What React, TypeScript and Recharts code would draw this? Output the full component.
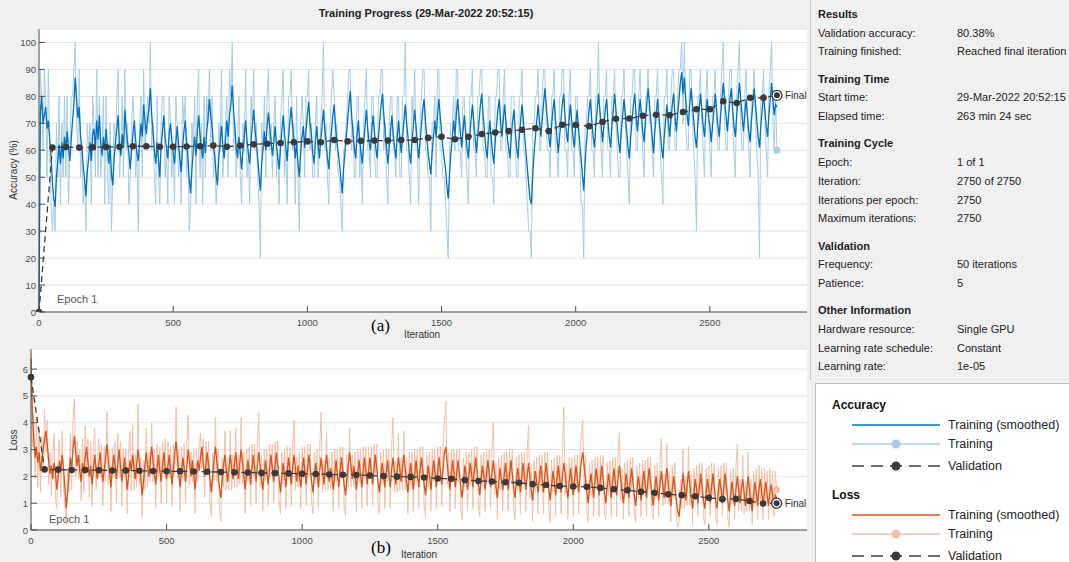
import React from "react";
import { LineChart, Line, XAxis, YAxis, CartesianGrid } from "recharts";

// one training sample every 5 iterations, validation every 50
const ITER_STEP = 5;
const VAL_STEP = 50;

const xTicks = [0, 500, 1000, 1500, 2000, 2500];
const accTicks = [0, 10, 20, 30, 40, 50, 60, 70, 80, 90, 100];
const lossTicks = [0, 1, 2, 3, 4, 5, 6];

const accTrainRaw = [
  0, 90, 80, 60, 90, 80, 50, 90, 60, 40, 30, 40, 30, 70, 50, 80, 40, 70, 50, 80, 50, 80, 40, 60, 80,
  80, 90, 100, 70, 60, 90, 50, 60, 40, 50, 30, 70, 60, 70, 40, 80, 70, 50, 90, 50, 80, 50, 60, 80, 40,
  80, 50, 40, 70, 30, 50, 70, 60, 80, 90, 50, 60, 80, 50, 90, 60, 70, 40, 50, 70, 80, 70, 50, 60, 30,
  70, 80, 50, 90, 60, 70, 80, 70, 100, 60, 70, 50, 40, 80, 50, 40, 70, 80, 80, 50, 60, 40, 80, 70, 50,
  60, 40, 80, 70, 50, 60, 40, 80, 70, 80, 50, 60, 30, 40, 70, 60, 80, 40, 80, 90, 50, 70, 40, 80, 50,
  80, 70, 90, 60, 80, 50, 60, 40, 50, 70, 60, 90, 50, 60, 70, 80, 50, 90, 80, 100, 60, 70, 50, 60, 80,
  50, 40, 70, 60, 90, 50, 60, 40, 80, 70, 90, 60, 70, 50, 40, 20, 70, 60, 80, 50, 80, 90, 60, 70, 50,
  70, 80, 50, 60, 40, 70, 80, 90, 50, 60, 40, 80, 80, 90, 60, 70, 40, 80, 50, 30, 70, 80, 70, 50, 80,
  80, 90, 60, 70, 50, 50, 70, 80, 50, 60, 70, 80, 100, 60, 70, 50, 40, 70, 80, 90, 80, 60, 70, 50, 50,
  40, 30, 60, 60, 70, 80, 90, 90, 60, 70, 50, 50, 80, 80, 50, 60, 40, 70, 80, 90, 60, 60, 50, 80, 80,
  60, 50, 50, 80, 80, 90, 90, 60, 70, 50, 40, 70, 80, 80, 60, 60, 50, 80, 80, 50, 50, 80, 80, 100, 60,
  60, 50, 40, 80, 70, 90, 60, 60, 40, 70, 80, 90, 90, 60, 60, 50, 50, 30, 70, 70, 80, 50, 90, 90, 60,
  60, 50, 50, 40, 30, 20, 60, 70, 70, 80, 60, 90, 90, 60, 60, 50, 80, 80, 60, 50, 40, 80, 80, 90, 60,
  60, 50, 80, 80, 90, 90, 60, 60, 50, 50, 80, 80, 50, 50, 40, 80, 80, 90, 90, 60, 60, 80, 90, 60, 60,
  50, 50, 80, 80, 80, 60, 50, 50, 80, 80, 90, 60, 60, 50, 40, 30, 30, 20, 70, 70, 80, 80, 90, 60, 60,
  80, 90, 90, 70, 60, 60, 50, 80, 80, 90, 60, 60, 50, 80, 80, 90, 90, 60, 60, 50, 80, 90, 60, 60, 50,
  80, 80, 60, 60, 40, 40, 20, 70, 70, 80, 80, 90, 60, 60, 50, 80, 80, 100, 70, 60, 50, 80, 80, 90, 60,
  60, 50, 80, 80, 90, 70, 60, 50, 50, 80, 80, 90, 70, 60, 50, 40, 80, 80, 90, 90, 60, 60, 80, 90, 70,
  60, 50, 80, 80, 90, 70, 70, 60, 50, 80, 80, 90, 70, 60, 50, 40, 80, 80, 90, 60, 60, 80, 90, 90, 60,
  60, 80, 90, 90, 100, 70, 100, 70, 60, 60, 90, 90, 70, 60, 50, 30, 80, 80, 90, 70, 60, 50, 80, 90, 70,
  60, 50, 80, 80, 90, 70, 60, 60, 80, 90, 100, 70, 60, 60, 80, 90, 90, 70, 60, 50, 80, 90, 100, 70, 60,
  60, 80, 90, 70, 60, 50, 80, 80, 90, 70, 60, 50, 20, 80, 80, 90, 70, 60, 50, 80, 90, 100, 70, 60, 80,
  60,
];

const accTrainSmooth = [
  0, 74, 80, 70, 73, 76, 68, 71, 64, 58, 48, 42, 39, 50, 56, 62, 55, 63, 57, 65, 60, 67, 61, 56, 64,
  71, 77, 87, 79, 72, 76, 65, 61, 54, 49, 43, 52, 57, 63, 56, 66, 68, 60, 71, 64, 73, 63, 58, 65, 60,
  68, 61, 55, 62, 51, 47, 57, 63, 68, 73, 62, 58, 66, 61, 75, 68, 63, 59, 53, 60, 66, 71, 64, 59, 56,
  63, 70, 65, 77, 71, 66, 72, 76, 83, 73, 67, 60, 55, 63, 57, 50, 61, 67, 73, 65, 61, 57, 66, 70, 64,
  59, 55, 63, 69, 62, 57, 52, 61, 67, 71, 63, 57, 49, 44, 53, 60, 65, 58, 67, 73, 66, 61, 57, 65, 59,
  67, 72, 79, 73, 69, 61, 58, 51, 47, 57, 63, 69, 62, 57, 64, 71, 65, 73, 77, 84, 75, 68, 61, 57, 65,
  59, 53, 60, 65, 71, 64, 59, 55, 63, 69, 75, 68, 63, 57, 51, 45, 55, 61, 67, 60, 69, 74, 68, 63, 58,
  63, 69, 62, 57, 53, 61, 67, 73, 66, 61, 56, 65, 71, 76, 69, 63, 57, 63, 55, 50, 59, 65, 69, 61, 67,
  73, 78, 70, 66, 59, 55, 63, 69, 62, 57, 64, 69, 75, 68, 63, 57, 53, 61, 67, 73, 77, 69, 63, 59, 55,
  49, 44, 53, 59, 65, 71, 77, 82, 73, 67, 61, 57, 65, 71, 64, 59, 55, 63, 69, 75, 68, 63, 60, 67, 73,
  67, 61, 57, 65, 71, 77, 81, 73, 67, 61, 55, 61, 67, 73, 66, 61, 57, 65, 71, 64, 59, 65, 71, 77, 70,
  65, 59, 55, 63, 69, 75, 69, 63, 57, 63, 69, 75, 79, 71, 65, 59, 55, 51, 59, 65, 71, 65, 73, 79, 73,
  67, 61, 57, 53, 47, 42, 51, 59, 65, 71, 65, 73, 79, 73, 67, 61, 67, 73, 67, 61, 57, 65, 71, 77, 71,
  65, 59, 65, 71, 77, 81, 73, 67, 61, 57, 65, 71, 65, 59, 55, 63, 69, 75, 79, 71, 65, 71, 77, 71, 65,
  61, 57, 65, 71, 75, 67, 61, 57, 65, 71, 77, 71, 65, 59, 53, 47, 42, 40, 51, 59, 65, 71, 77, 71, 65,
  71, 77, 83, 77, 71, 65, 61, 69, 75, 79, 71, 65, 59, 65, 71, 77, 81, 73, 67, 63, 71, 77, 71, 65, 61,
  69, 75, 69, 63, 57, 51, 45, 55, 63, 69, 75, 79, 71, 65, 61, 69, 75, 81, 75, 69, 63, 69, 75, 79, 71,
  65, 61, 69, 75, 81, 75, 69, 63, 59, 67, 73, 79, 73, 67, 61, 57, 65, 71, 77, 81, 73, 67, 73, 79, 73,
  67, 63, 71, 77, 83, 77, 71, 65, 59, 67, 73, 79, 73, 67, 61, 57, 65, 71, 77, 71, 65, 71, 77, 81, 73,
  67, 73, 79, 85, 89, 81, 87, 79, 73, 69, 77, 83, 77, 71, 65, 61, 69, 75, 81, 75, 69, 65, 73, 79, 73,
  69, 63, 69, 75, 81, 75, 69, 65, 73, 79, 85, 79, 73, 67, 73, 79, 83, 75, 69, 65, 73, 79, 85, 79, 73,
  67, 73, 79, 73, 67, 63, 71, 77, 83, 77, 71, 65, 61, 69, 75, 81, 75, 69, 65, 73, 79, 85, 79, 73, 77,
  76,
];

const accValidation = [
  0, 61.0, 61.2, 61.0, 61.1, 61.2, 61.3, 61.5, 61.5, 61.3, 61.3, 61.4, 61.5, 61.8, 61.3, 61.8, 62.2,
  62.4, 62.7, 63.0, 63.3, 63.0, 63.8, 63.3, 63.5, 63.6, 63.6, 63.8, 63.8, 64.6, 65.0, 64.1, 65.0, 66.0,
  66.6, 67.1, 67.6, 68.2, 67.1, 69.5, 69.4, 68.9, 70.5, 71.7, 71.8, 72.8, 73.2, 73.0, 74.2, 75.2, 75.2,
  78.2, 77.5, 79.5, 79.5, 80.38,
];

const lossTrainRaw = [
  6.6, 3.1, 4.3, 1.9, 4.2, 1.6, 3.8, 1.4, 3.5, 2.2, 4.5, 2.9, 4.1, 1.7, 2.9, 1.3, 2.6, 3.6, 1.3, 0.8, 2.8, 3.4, 1.2, 3.7, 1.6,
  0.9, 0.2, 2.3, 1.4, 3.6, 1.5, 4.1, 4.9, 2.0, 3.3, 1.9, 3.0, 1.1, 3.4, 1.4, 3.9, 2.2, 3.4, 1.2, 3.3, 0.9, 3.1, 3.8, 1.5, 2.7,
  3.4, 2.0, 3.2, 0.9, 3.1, 1.8, 4.4, 1.7, 3.0, 0.7, 3.1, 2.0, 3.3, 1.0, 3.6, 2.1, 3.3, 0.9, 3.0, 1.9, 3.0, 0.6, 2.9, 3.7, 1.4,
  3.9, 1.5, 2.8, 1.6, 4.7, 1.7, 2.7, 0.5, 2.6, 1.5, 3.8, 1.6, 2.9, 1.8, 4.0, 1.8, 3.0, 0.8, 3.2, 2.0, 3.1, 1.0, 3.3, 2.1, 3.4,
  1.0, 3.3, 2.0, 3.1, 0.9, 3.2, 2.1, 4.6, 1.9, 3.0, 0.7, 3.1, 1.9, 3.2, 1.0, 3.3, 4.3, 1.7, 2.9, 1.8, 3.0, 0.6, 3.0, 1.8, 3.1,
  3.6, 2.3, 3.4, 1.2, 3.3, 2.1, 3.3, 1.1, 0.5, 2.9, 1.8, 4.2, 1.8, 3.0, 0.8, 0.3, 2.7, 1.6, 3.7, 1.5, 2.7, 1.5, 3.7, 1.5, 2.8,
  1.6, 3.8, 1.6, 2.8, 1.7, 4.2, 1.7, 2.9, 0.6, 3.0, 1.8, 3.1, 0.9, 3.2, 2.0, 3.2, 1.0, 3.3, 4.4, 1.6, 2.8, 0.7, 3.0, 1.8, 3.0,
  0.9, 3.2, 2.0, 3.2, 1.0, 3.3, 2.1, 3.3, 1.1, 0.6, 2.9, 1.7, 3.0, 0.8, 3.1, 1.9, 3.1, 0.9, 3.2, 4.1, 1.5, 2.7, 1.6, 2.9, 0.8,
  3.1, 1.9, 3.1, 0.9, 3.2, 2.0, 3.2, 1.0, 0.6, 2.9, 1.7, 3.0, 0.8, 3.1, 4.4, 1.4, 2.6, 1.5, 3.7, 1.5, 2.7, 1.5, 2.9, 0.7, 3.0,
  1.8, 3.0, 0.8, 3.1, 1.9, 3.1, 0.9, 0.5, 2.8, 1.6, 3.8, 1.6, 2.8, 1.6, 2.9, 0.7, 3.0, 1.8, 3.0, 0.8, 3.1, 1.9, 3.1, 0.9, 3.1,
  1.9, 3.1, 0.9, 3.2, 2.0, 3.2, 1.0, 0.6, 2.9, 1.7, 3.0, 0.8, 3.0, 1.8, 3.0, 0.8, 3.1, 4.2, 1.4, 2.6, 1.4, 3.6, 1.5, 2.7, 1.5,
  3.7, 1.5, 2.7, 0.6, 2.9, 1.7, 2.9, 0.7, 3.0, 1.8, 3.0, 0.8, 3.1, 1.9, 3.1, 0.9, 0.5, 2.8, 1.6, 2.9, 0.7, 3.0, 1.8, 3.0, 0.8,
  3.1, 1.9, 3.1, 0.9, 3.2, 4.1, 4.8, 1.7, 2.9, 0.7, 3.0, 1.8, 3.0, 0.8, 3.0, 1.8, 3.0, 0.8, 0.4, 2.7, 1.6, 2.9, 0.7, 2.9, 1.7,
  3.0, 0.8, 3.1, 1.9, 3.1, 0.9, 0.5, 2.8, 1.6, 2.9, 0.7, 3.0, 1.8, 3.0, 0.8, 3.0, 4.0, 1.3, 2.5, 0.4, 2.7, 1.5, 2.8, 0.7, 2.9,
  1.7, 2.9, 0.7, 3.0, 1.8, 3.0, 0.8, 0.4, 2.7, 1.5, 2.8, 0.6, 2.9, 1.7, 2.9, 0.7, 2.9, 3.9, 1.2, 2.4, 0.3, 2.6, 1.4, 2.7, 0.6,
  2.8, 1.6, 2.8, 0.6, 2.9, 1.7, 2.9, 0.7, 0.3, 2.6, 1.4, 2.7, 0.5, 2.8, 1.6, 2.8, 0.6, 2.9, 4.6, 1.3, 2.5, 0.4, 2.7, 1.5, 2.7,
  0.5, 2.8, 1.6, 2.8, 0.6, 2.9, 3.5, 4.1, 1.6, 2.8, 0.6, 0.3, 2.5, 1.3, 2.6, 0.5, 2.7, 1.5, 2.7, 0.5, 2.8, 1.6, 2.8, 0.6, 0.4,
  2.5, 1.3, 2.6, 0.5, 2.7, 1.5, 2.7, 0.5, 2.8, 3.6, 1.1, 2.3, 0.4, 2.5, 1.3, 2.6, 0.5, 2.7, 1.5, 2.7, 0.6, 0.3, 2.4, 1.2, 2.5,
  0.5, 2.6, 1.4, 2.6, 0.5, 2.7, 1.5, 2.7, 0.6, 0.4, 2.4, 1.2, 2.5, 0.5, 2.6, 3.4, 0.9, 2.1, 1.0, 3.2, 1.0, 2.2, 0.3, 2.4, 1.2,
  2.5, 0.5, 0.1, 0.3, 1.9, 0.8, 3.0, 0.8, 2.0, 0.9, 3.1, 0.9, 2.1, 0.2, 2.3, 1.1, 2.4, 0.5, 2.5, 1.3, 2.5, 0.5, 0.2, 2.3, 1.1,
  2.4, 0.5, 2.5, 1.3, 2.5, 0.5, 0.2, 2.3, 1.1, 2.4, 0.5, 2.5, 1.3, 2.5, 0.5, 0.1, 2.2, 1.0, 2.3, 0.4, 2.4, 3.2, 0.7, 1.9, 0.7,
  2.8, 0.6, 1.8, 0.7, 2.9, 0.7, 1.9, 0.2, 2.2, 1.0, 2.3, 0.4, 2.4, 1.1, 2.3, 0.4, 2.3, 1.0, 2.2, 0.4, 2.3, 0.9, 2.2, 0.5, 2.2,
  1.5,
];

const lossTrainSmooth = [
  6.4, 4.5, 3.4, 2.7, 3.1, 2.5, 2.9, 2.2, 2.6, 3.0, 3.4, 3.7, 3.2, 2.6, 2.1, 2.4, 1.9, 2.5, 2.2, 1.5, 1.9, 2.6, 2.2, 2.8, 2.3,
  1.6, 0.8, 1.4, 2.1, 2.7, 2.3, 3.0, 3.5, 2.9, 2.4, 2.8, 2.2, 1.8, 2.5, 2.1, 2.7, 3.1, 2.5, 2.0, 2.4, 1.7, 2.2, 2.8, 2.3, 1.9,
  2.5, 2.9, 2.3, 1.8, 2.2, 2.7, 3.2, 2.6, 2.1, 1.6, 2.3, 2.8, 2.4, 1.9, 2.5, 3.0, 2.4, 1.8, 2.2, 2.7, 2.1, 1.5, 2.0, 2.6, 2.2,
  2.8, 2.3, 1.9, 2.5, 3.0, 2.5, 1.9, 1.3, 1.8, 2.4, 2.9, 2.4, 2.0, 2.6, 3.1, 2.6, 2.1, 1.7, 2.3, 2.8, 2.2, 1.8, 2.4, 2.9, 2.3,
  1.9, 2.4, 2.8, 2.2, 1.7, 2.3, 2.9, 3.3, 2.7, 2.1, 1.6, 2.2, 2.7, 2.3, 1.8, 2.4, 3.0, 2.5, 2.0, 2.6, 2.1, 1.5, 2.1, 2.6, 2.2,
  2.7, 3.1, 2.5, 2.0, 2.4, 2.9, 2.4, 1.9, 1.4, 2.0, 2.6, 3.1, 2.6, 2.1, 1.6, 1.2, 1.8, 2.4, 2.8, 2.3, 1.8, 2.3, 2.8, 2.3, 1.9,
  2.4, 2.9, 2.4, 1.9, 2.5, 3.0, 2.5, 2.0, 1.5, 2.1, 2.6, 2.2, 1.7, 2.3, 2.8, 2.3, 1.8, 2.4, 2.9, 2.4, 1.9, 1.5, 2.1, 2.6, 2.1,
  1.7, 2.3, 2.8, 2.3, 1.8, 2.4, 2.9, 2.4, 1.9, 1.4, 2.0, 2.5, 2.1, 1.6, 2.2, 2.7, 2.2, 1.7, 2.3, 2.8, 2.3, 1.8, 2.4, 2.0, 1.6,
  2.2, 2.7, 2.2, 1.7, 2.3, 2.8, 2.3, 1.8, 1.4, 2.0, 2.5, 2.1, 1.6, 2.2, 2.7, 2.2, 1.7, 2.3, 2.8, 2.3, 1.8, 2.3, 2.0, 1.5, 2.1,
  2.6, 2.1, 1.6, 2.2, 2.7, 2.2, 1.7, 1.3, 1.9, 2.4, 2.9, 2.4, 1.9, 2.4, 2.0, 1.5, 2.1, 2.6, 2.1, 1.6, 2.2, 2.7, 2.2, 1.7, 2.2,
  2.7, 2.2, 1.7, 2.3, 2.8, 2.3, 1.8, 1.4, 2.0, 2.5, 2.1, 1.6, 2.1, 2.6, 2.1, 1.6, 2.2, 2.7, 2.2, 1.7, 2.2, 2.7, 2.3, 1.8, 2.3,
  2.8, 2.3, 1.8, 1.4, 2.0, 2.5, 2.0, 1.5, 2.1, 2.6, 2.1, 1.6, 2.2, 2.7, 2.2, 1.7, 1.3, 1.9, 2.4, 2.0, 1.5, 2.1, 2.6, 2.1, 1.6,
  2.2, 2.7, 2.2, 1.7, 2.3, 2.9, 3.1, 2.5, 2.0, 1.5, 2.1, 2.6, 2.1, 1.6, 2.1, 2.6, 2.1, 1.6, 1.2, 1.8, 2.4, 2.0, 1.5, 2.0, 2.5,
  2.1, 1.6, 2.2, 2.7, 2.2, 1.7, 1.3, 1.9, 2.4, 2.0, 1.5, 2.1, 2.6, 2.1, 1.6, 2.1, 2.6, 2.1, 1.6, 1.2, 1.8, 2.3, 1.9, 1.5, 2.0,
  2.5, 2.0, 1.5, 2.1, 2.6, 2.1, 1.6, 1.2, 1.8, 2.3, 1.9, 1.4, 2.0, 2.5, 2.0, 1.5, 2.0, 2.5, 2.0, 1.5, 1.1, 1.7, 2.2, 1.8, 1.4,
  1.9, 2.4, 1.9, 1.4, 2.0, 2.5, 2.0, 1.5, 1.1, 1.7, 2.2, 1.8, 1.3, 1.9, 2.4, 1.9, 1.4, 2.0, 2.5, 2.1, 1.6, 1.2, 1.8, 2.3, 1.8,
  1.3, 1.9, 2.4, 1.9, 1.4, 2.0, 2.6, 2.9, 2.4, 1.9, 1.4, 1.0, 1.6, 2.1, 1.7, 1.2, 1.8, 2.3, 1.8, 1.3, 1.9, 2.4, 1.9, 1.4, 1.0,
  1.6, 2.1, 1.7, 1.2, 1.8, 2.3, 1.8, 1.3, 1.9, 2.4, 1.9, 1.4, 1.0, 1.6, 2.1, 1.7, 1.2, 1.8, 2.3, 1.8, 1.3, 0.9, 1.5, 2.0, 1.6,
  1.1, 1.7, 2.2, 1.7, 1.2, 1.8, 2.3, 1.8, 1.3, 0.9, 1.5, 2.0, 1.6, 1.1, 1.7, 2.2, 1.7, 1.2, 1.8, 2.3, 1.8, 1.3, 0.9, 1.5, 2.0,
  1.6, 1.1, 0.7, 0.5, 1.0, 1.6, 2.1, 1.6, 1.1, 1.7, 2.2, 1.7, 1.2, 0.8, 1.4, 1.9, 1.5, 1.0, 1.6, 2.1, 1.6, 1.1, 0.8, 1.4, 1.9,
  1.5, 1.0, 1.6, 2.1, 1.6, 1.1, 0.8, 1.4, 1.9, 1.5, 1.0, 1.6, 2.1, 1.6, 1.1, 0.7, 1.3, 1.8, 1.4, 0.9, 1.5, 2.0, 1.5, 1.0, 1.5,
  1.9, 1.4, 0.9, 1.5, 2.0, 1.5, 1.0, 0.7, 1.3, 1.8, 1.4, 0.9, 1.5, 1.9, 1.4, 0.9, 1.4, 1.8, 1.3, 0.9, 1.4, 1.7, 1.3, 0.9, 1.3,
  1.2,
];

const lossValidation = [
  5.7, 2.26, 2.25, 2.24, 2.24, 2.23, 2.22, 2.22, 2.21, 2.2, 2.19, 2.19, 2.18, 2.17, 2.16, 2.15, 2.14,
  2.13, 2.12, 2.11, 2.1, 2.09, 2.07, 2.06, 2.05, 2.03, 2.01, 1.99, 1.98, 1.96, 1.92, 1.91, 1.86, 1.83,
  1.81, 1.78, 1.76, 1.71, 1.68, 1.64, 1.62, 1.61, 1.57, 1.52, 1.48, 1.42, 1.39, 1.33, 1.3, 1.26, 1.2,
  1.15, 1.16, 1.08, 0.99, 1.0,
];

const panelSections = [
  { title: "Results", rows: [["Validation accuracy:", "80.38%"], ["Training finished:", "Reached final iteration"]] },
  { title: "Training Time", rows: [["Start time:", "29-Mar-2022 20:52:15"], ["Elapsed time:", "263 min 24 sec"]] },
  {
    title: "Training Cycle",
    rows: [["Epoch:", "1 of 1"], ["Iteration:", "2750 of 2750"], ["Iterations per epoch:", "2750"], ["Maximum iterations:", "2750"]],
  },
  { title: "Validation", rows: [["Frequency:", "50 iterations"], ["Patience:", "5"]] },
  {
    title: "Other Information",
    rows: [["Hardware resource:", "Single GPU"], ["Learning rate schedule:", "Constant"], ["Learning rate:", "1e-05"]],
  },
];

const FONT = '"Liberation Sans", Arial, Helvetica, sans-serif';
const AXIS = "#4d4d4d";
const VAL = "#3a3a3a";
const BLUE = "#0072BD";
const BLUE_LIGHT = "#a6cce8";
const ORANGE = "#D95319";
const ORANGE_LIGHT = "#f2c0a9";

function buildData(raw: number[], smooth: number[], val: number[]) {
  return raw.map((v, i) => {
    const iter = i * ITER_STEP;
    return {
      iter,
      raw: v,
      smooth: smooth[i],
      val: iter % VAL_STEP === 0 ? val[iter / VAL_STEP] : null,
    };
  });
}

const accData = buildData(accTrainRaw, accTrainSmooth, accValidation);
const lossData = buildData(lossTrainRaw, lossTrainSmooth, lossValidation);

function XTick(props: any) {
  const { x, y, payload } = props;
  return (
    <g>
      <line x1={x} x2={x} y1={y} y2={y - 6} stroke={AXIS} strokeWidth={1} />
      <text x={x} y={y + 14} textAnchor="middle" fontSize={9.5} fill={AXIS} fontFamily={FONT}>
        {payload.value}
      </text>
    </g>
  );
}

function YTick(props: any) {
  const { x, y, payload } = props;
  return (
    <g>
      <line x1={x} x2={x + 6} y1={y} y2={y} stroke={AXIS} strokeWidth={1} />
      <text x={x - 3} y={y + 3.5} textAnchor="end" fontSize={9.5} fill={AXIS} fontFamily={FONT}>
        {payload.value}
      </text>
    </g>
  );
}

const lastDot = (color: string, last: number) => (p: any) => {
  if (p.index !== last || p.cy == null) return <g key={`r${p.index}`} />;
  return <circle key={`r${p.index}`} cx={p.cx} cy={p.cy} r={3.5} fill={color} stroke="none" />;
};

const valDot = (last: number) => (p: any) => {
  if (p.cy == null || p.value == null) return <g key={`v${p.index}`} />;
  if (p.index === last) {
    return (
      <g key={`v${p.index}`}>
        <circle cx={p.cx} cy={p.cy} r={5} fill="#fff" stroke={VAL} strokeWidth={1.3} />
        <circle cx={p.cx} cy={p.cy} r={3} fill={VAL} />
        <text x={p.cx + 8} y={p.cy + 3.5} fontSize={10} fill="#333" fontFamily={FONT}>
          Final
        </text>
      </g>
    );
  }
  return <circle key={`v${p.index}`} cx={p.cx} cy={p.cy} r={3.3} fill={VAL} stroke="none" />;
};

function ProgressChart(props: {
  data: any[];
  height: number;
  top: number;
  left: number;
  xAxisHeight: number;
  yMax: number;
  yTicks: number[];
  raw: string;
  smooth: string;
}) {
  const last = props.data.length - 1;
  return (
    <LineChart
      width={808}
      height={props.height}
      data={props.data}
      margin={{ top: props.top, right: 1, bottom: 0, left: 0 }}
    >
      <CartesianGrid horizontal vertical={false} stroke="#e3e3e3" fill="#ffffff" />
      <XAxis
        dataKey="iter"
        type="number"
        domain={[0, 2862]}
        ticks={xTicks}
        height={props.xAxisHeight}
        tickSize={0}
        tickMargin={0}
        tickLine={false}
        axisLine={{ stroke: AXIS }}
        tick={<XTick />}
        interval={0}
      />
      <YAxis
        type="number"
        domain={[0, props.yMax]}
        ticks={props.yTicks}
        width={props.left}
        tickSize={0}
        tickMargin={0}
        tickLine={false}
        axisLine={{ stroke: AXIS }}
        tick={<YTick />}
        interval={0}
        allowDataOverflow
      />
      <Line
        dataKey="raw"
        stroke={props.raw}
        strokeWidth={1}
        dot={lastDot(props.raw, last)}
        activeDot={false}
        isAnimationActive={false}
        type="linear"
      />
      <Line
        dataKey="smooth"
        stroke={props.smooth}
        strokeWidth={1.3}
        dot={false}
        activeDot={false}
        isAnimationActive={false}
        type="linear"
      />
      <Line
        dataKey="val"
        stroke={VAL}
        strokeWidth={1.3}
        strokeDasharray="6 4"
        connectNulls
        dot={valDot(last)}
        activeDot={false}
        isAnimationActive={false}
        type="linear"
      />
    </LineChart>
  );
}

function LegendIcon({ color, kind }: { color: string; kind: "line" | "dot" | "dash" }) {
  return (
    <svg width={90} height={10} style={{ display: "block" }}>
      <line
        x1={0}
        x2={88}
        y1={5}
        y2={5}
        stroke={kind === "dash" ? VAL : color}
        strokeWidth={1.6}
        strokeDasharray={kind === "dash" ? "12 7" : undefined}
      />
      {kind !== "line" && <circle cx={44} cy={5} r={4.5} fill={kind === "dash" ? VAL : color} />}
    </svg>
  );
}

function LegendGroup({ title, top, smooth, raw }: { title: string; top: number; smooth: string; raw: string }) {
  const items: [string, string, "line" | "dot" | "dash"][] = [
    ["Training (smoothed)", smooth, "line"],
    ["Training", raw, "dot"],
    ["Validation", VAL, "dash"],
  ];
  return (
    <>
      <div style={{ position: "absolute", left: 16, top: top - 8, fontSize: 12, fontWeight: "bold", color: "#111" }}>
        {title}
      </div>
      {items.map(([label, color, kind], k) => (
        <div
          key={label}
          style={{ position: "absolute", left: 36, top: top + [19, 38, 60][k] - 8, display: "flex", alignItems: "center" }}
        >
          <LegendIcon color={color} kind={kind} />
          <span style={{ marginLeft: 6, fontSize: 12.5, color: "#222", whiteSpace: "nowrap", lineHeight: "16px" }}>
            {label}
          </span>
        </div>
      ))}
    </>
  );
}

export default function App() {
  const abs = (left: number, top: number, extra: React.CSSProperties = {}): React.CSSProperties => ({
    position: "absolute",
    left,
    top,
    ...extra,
  });
  let y = 5;
  const panelLines: React.ReactNode[] = [];
  panelSections.forEach((s, si) => {
    if (si > 0) y += 8.6;
    panelLines.push(
      <div key={s.title} style={abs(8, y, { fontWeight: "bold", fontSize: 11, lineHeight: "18.7px" })}>
        {s.title}
      </div>
    );
    y += 18.7;
    s.rows.forEach(([k, v]) => {
      panelLines.push(
        <div key={k} style={abs(8, y, { fontSize: 11, lineHeight: "18.7px", whiteSpace: "nowrap" })}>
          {k}
        </div>
      );
      panelLines.push(
        <div key={k + "v"} style={abs(147, y, { fontSize: 11, lineHeight: "18.7px", whiteSpace: "nowrap" })}>
          {v}
        </div>
      );
      y += 18.7;
    });
  });

  return (
    <div
      style={{
        position: "absolute",
        left: 0,
        top: 0,
        width: 1069,
        height: 562,
        background: "#f0f0f0",
        overflow: "hidden",
        fontFamily: FONT,
        color: "#222",
      }}
    >
      {/* accuracy */}
      <div style={abs(0, 0)}>
        <ProgressChart
          data={accData}
          height={340}
          top={29}
          left={39}
          xAxisHeight={28}
          yMax={105}
          yTicks={accTicks}
          raw={BLUE_LIGHT}
          smooth={BLUE}
        />
      </div>
      <div
        style={abs(426, 7, {
          transform: "translateX(-50%)",
          whiteSpace: "nowrap",
          fontWeight: "bold",
          fontSize: 11,
        })}
      >
        Training Progress (29-Mar-2022 20:52:15)
      </div>
      <div style={abs(57, 293, { fontSize: 11, color: "#555" })}>Epoch 1</div>
      <div style={abs(404, 329, { fontSize: 10, color: "#333" })}>Iteration</div>
      <div
        style={abs(13, 170, {
          fontSize: 10,
          color: "#333",
          transform: "translate(-50%, -50%) rotate(-90deg)",
          whiteSpace: "nowrap",
        })}
      >
        Accuracy (%)
      </div>
      <div style={abs(371, 316, { fontFamily: '"Liberation Serif", "Times New Roman", serif', fontSize: 17, color: "#000" })}>
        (a)
      </div>

      {/* loss */}
      <div style={abs(0, 340)}>
        <ProgressChart
          data={lossData}
          height={222}
          top={9}
          left={31}
          xAxisHeight={32}
          yMax={6.75}
          yTicks={lossTicks}
          raw={ORANGE_LIGHT}
          smooth={ORANGE}
        />
      </div>
      <div style={abs(49, 513, { fontSize: 11, color: "#555" })}>Epoch 1</div>
      <div style={abs(401, 549, { fontSize: 10, color: "#333" })}>Iteration</div>
      <div
        style={abs(13, 440, {
          fontSize: 10,
          color: "#333",
          transform: "translate(-50%, -50%) rotate(-90deg)",
          whiteSpace: "nowrap",
        })}
      >
        Loss
      </div>
      <div style={abs(371, 538, { fontFamily: '"Liberation Serif", "Times New Roman", serif', fontSize: 17, color: "#000" })}>
        (b)
      </div>

      {/* info panel */}
      <div style={abs(810, 0, { width: 1, height: 380, background: "#c9c9c9" })} />
      <div style={abs(810, 0, { width: 259, height: 380 })}>{panelLines}</div>

      {/* legend */}
      <div
        style={abs(815, 383, {
          width: 260,
          height: 190,
          background: "#ffffff",
          border: "1px solid #bdbdbd",
        })}
      >
        <LegendGroup title="Accuracy" top={22} smooth={BLUE} raw={BLUE_LIGHT} />
        <LegendGroup title="Loss" top={112} smooth={ORANGE} raw={ORANGE_LIGHT} />
      </div>
    </div>
  );
}
